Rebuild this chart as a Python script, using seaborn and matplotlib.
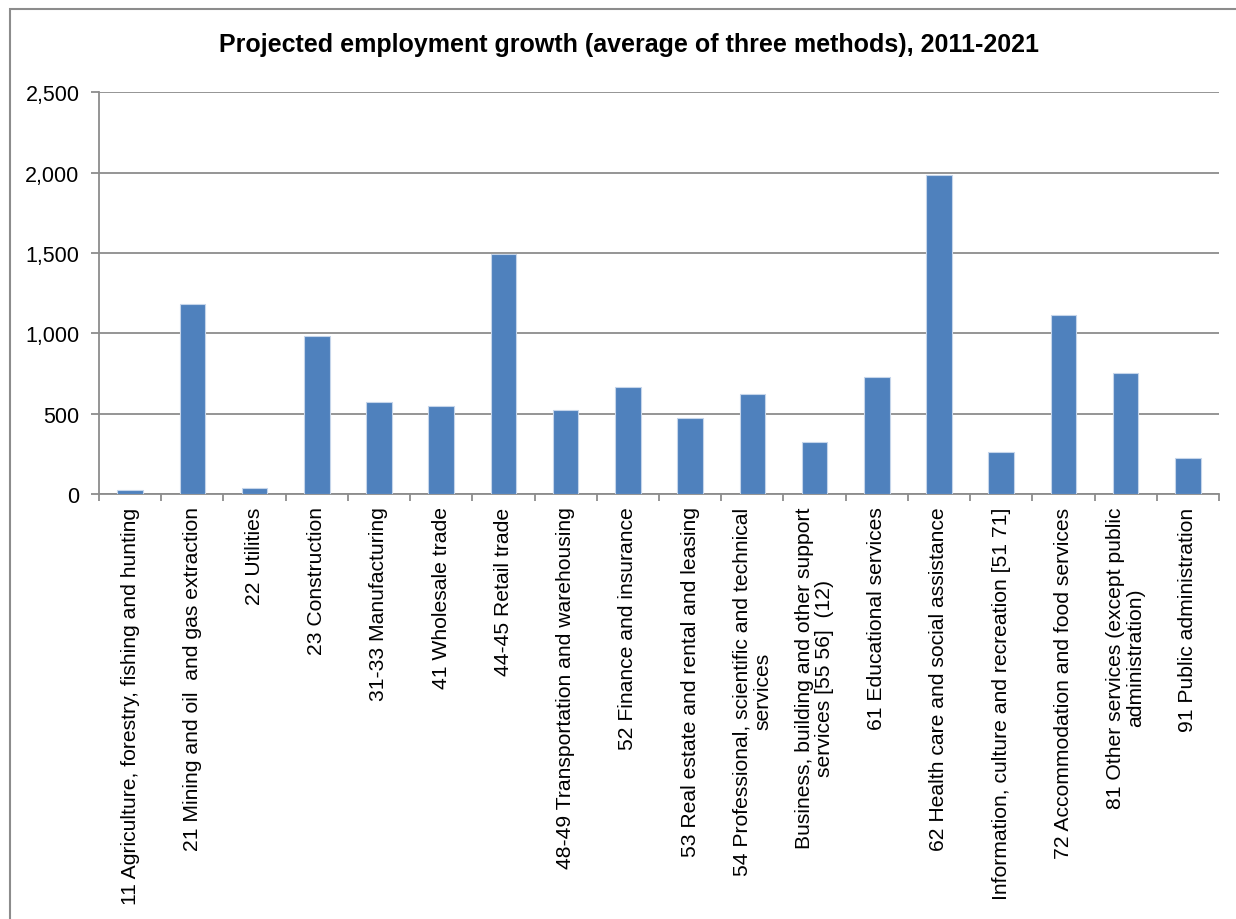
import matplotlib
matplotlib.use("Agg")
import matplotlib.pyplot as plt
from matplotlib.patches import Rectangle
from matplotlib.ticker import FuncFormatter, FixedLocator
import seaborn as sns
import pandas as pd

industries = [
    "11 Agriculture, forestry, fishing and hunting",
    "21 Mining and oil  and gas extraction",
    "22 Utilities",
    "23 Construction",
    "31-33 Manufacturing",
    "41 Wholesale trade",
    "44-45 Retail trade",
    "48-49 Transportation and warehousing",
    "52 Finance and insurance",
    "53 Real estate and rental and leasing",
    "54 Professional, scientific and technical\nservices",
    "Business, building and other support\nservices [55 56]  (12)",
    "61 Educational services",
    "62 Health care and social assistance",
    "Information, culture and recreation [51 71]",
    "72 Accommodation and food services",
    "81 Other services (except public\nadministration)",
    "91 Public administration",
]
growth = [25, 1180, 40, 985, 570, 545, 1495, 520, 668, 471, 620, 322,
          730, 1985, 260, 1112, 755, 224]
y_ticks = [0, 500, 1000, 1500, 2000, 2500]

df = pd.DataFrame({"industry": industries, "growth": growth})

sns.set_style("white")
plt.rcParams["font.family"] = ["Liberation Sans", "DejaVu Sans"]

W, H = 1236, 920
fig = plt.figure(figsize=(W / 100, H / 100), dpi=100)
ax = fig.add_axes([99 / W, 1 - 495 / H, (1219 - 99) / W, (495 - 93.3) / H])

grid_col = "#8c8c8c"
sns.barplot(data=df, x="industry", y="growth", ax=ax, color="#4F81BD",
            saturation=1, width=0.41, edgecolor="#c5d5ea", linewidth=0.8,
            zorder=3)

ax.set_xlim(-0.5, len(industries) - 0.5)
ax.set_ylim(0, 2500)
ax.yaxis.set_major_locator(FixedLocator(y_ticks))
ax.yaxis.set_major_formatter(FuncFormatter(lambda v, p: f"{int(v):,}"))
ax.grid(axis="y", color=grid_col, linewidth=1.3, zorder=0)
ax.set_axisbelow(True)
ax.set_xlabel("")
ax.set_ylabel("")

for side in ["top", "right"]:
    ax.spines[side].set_visible(False)
for side in ["left", "bottom"]:
    ax.spines[side].set_color(grid_col)
    ax.spines[side].set_linewidth(1.3)

ax.tick_params(axis="y", which="major", left=True, length=6, width=1.3,
               color=grid_col, pad=8, labelsize=15.5, labelcolor="black")
# category boundaries carry the tick marks; labels sit at category centres
ax.set_xticks([i - 0.5 for i in range(len(industries) + 1)], minor=True)
ax.tick_params(axis="x", which="minor", bottom=True, length=5, width=1.3,
               color=grid_col)
ax.tick_params(axis="x", which="major", bottom=False, length=0, pad=9)
ax.set_xticks(range(len(industries)))
ax.set_xticklabels(industries, rotation=90, ha="center", va="top",
                   multialignment="center", fontsize=15.2, color="black",
                   linespacing=1.1)

fig.text(629 / W, 1 - 45 / H,
         "Projected employment growth (average of three methods), 2011-2021",
         ha="center", va="center", fontsize=18, fontweight="bold",
         color="black")

# chart area border
fig.patches.append(Rectangle((10 / W, -0.1), 1.2, 1 - 10 / H + 0.1,
                             transform=fig.transFigure, fill=False,
                             edgecolor=grid_col, linewidth=1.5))

fig.savefig("out.png", dpi=100, facecolor="white")
